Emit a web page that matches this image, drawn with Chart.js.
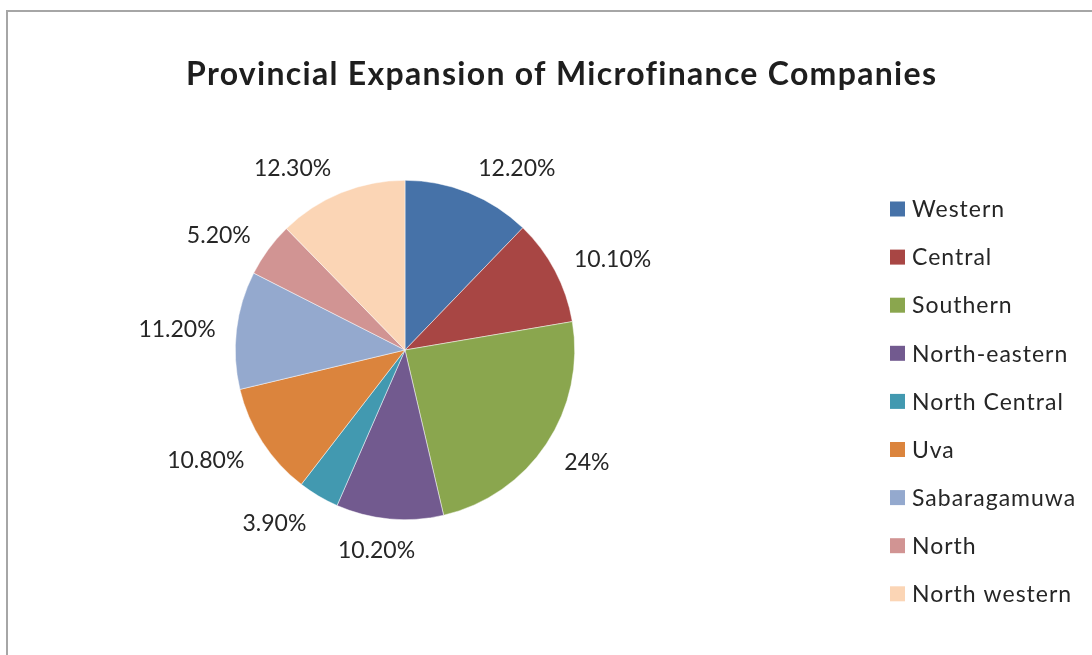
<!DOCTYPE html>
<html>
<head>
<meta charset="utf-8">
<title>Provincial Expansion of Microfinance Companies</title>
<script src="https://cdn.jsdelivr.net/npm/chart.js@4/dist/chart.umd.min.js"></script>
<style>
  html, body { margin: 0; padding: 0; background: #ffffff; overflow: hidden; }
  canvas { display: block; }
</style>
</head>
<body>
<canvas id="chart" width="1092" height="655"></canvas>
<script>
// Provinces and their share of microfinance company expansion (%)
const provinces = ['Western', 'Central', 'Southern', 'North-eastern', 'North Central', 'Uva', 'Sabaragamuwa', 'North', 'North western'];
const shares = [12.2, 10.1, 24, 10.2, 3.9, 10.8, 11.2, 5.2, 12.3];
const sliceColors = ['#4672a8', '#a84644', '#8aa64e', '#725a8f', '#4299b0', '#db843d', '#94a9ce', '#d19493', '#fbd5b5'];
const chartTitle = 'Provincial Expansion of Microfinance Companies';

const FONT = 'Lato, "Open Sans", "Noto Sans", sans-serif';
const TEXT = '#262626';

function pctText(v) {
  return (Number.isInteger(v) ? String(v) : v.toFixed(2)) + '%';
}

// Frame line along the top and left edges of the chart area
const framePlugin = {
  id: 'frame',
  beforeDraw(chart) {
    const ctx = chart.ctx;
    ctx.save();
    ctx.strokeStyle = '#a6a6a6';
    ctx.lineWidth = 2;
    ctx.beginPath();
    ctx.moveTo(7, chart.height + 5);
    ctx.lineTo(7, 11);
    ctx.lineTo(chart.width + 5, 11);
    ctx.stroke();
    ctx.restore();
  }
};

// Heading text
const headingPlugin = {
  id: 'heading',
  afterDraw(chart, args, opts) {
    const ctx = chart.ctx;
    ctx.save();
    ctx.font = 'bold ' + opts.size + 'px ' + FONT;
    ctx.letterSpacing = opts.spacing + 'px';
    ctx.fillStyle = '#1e1e1e';
    ctx.textAlign = 'left';
    ctx.textBaseline = 'alphabetic';
    const w = ctx.measureText(opts.text).width - opts.spacing;
    ctx.fillText(opts.text, opts.x - w / 2, opts.baseline);
    ctx.restore();
  }
};

// Percentage labels just outside each slice
const outsideLabels = {
  id: 'outsideLabels',
  afterDatasetsDraw(chart, args, opts) {
    const ctx = chart.ctx;
    const meta = chart.getDatasetMeta(0);
    const values = chart.data.datasets[0].data;
    ctx.save();
    ctx.font = opts.size + 'px ' + FONT;
    ctx.fillStyle = TEXT;
    ctx.textAlign = 'center';
    ctx.textBaseline = 'alphabetic';
    meta.data.forEach((arc, i) => {
      const p = arc.getProps(['x', 'y', 'startAngle', 'endAngle', 'outerRadius'], true);
      const mid = (p.startAngle + p.endAngle) / 2;
      const c = Math.cos(mid), s = Math.sin(mid);
      const text = pctText(values[i]);
      const w = ctx.measureText(text).width;
      const ax = p.x + (p.outerRadius + opts.gap) * c;
      const ay = p.y + (p.outerRadius + opts.gap) * s;
      const k = Math.max(-1, Math.min(1, 3 * c));
      const cx = ax + (w / 2 + 3) * k;
      const cy = ay + (opts.boxHeight / 2) * s;
      ctx.fillText(text, cx, cy + opts.size * 0.36 + 2);
    });
    ctx.restore();
  }
};

// Key of provinces on the right
const keyPlugin = {
  id: 'key',
  afterDraw(chart, args, opts) {
    const ctx = chart.ctx;
    const ds = chart.data.datasets[0];
    ctx.save();
    ctx.font = opts.size + 'px ' + FONT;
    ctx.letterSpacing = opts.spacing + 'px';
    ctx.textAlign = 'left';
    ctx.textBaseline = 'alphabetic';
    chart.data.labels.forEach((label, i) => {
      const cy = opts.top + i * opts.step;
      ctx.fillStyle = ds.backgroundColor[i];
      ctx.fillRect(opts.x, cy - opts.box / 2, opts.box, opts.box);
      ctx.fillStyle = TEXT;
      ctx.fillText(label, opts.x + opts.box + 7, cy + opts.size * 0.36);
    });
    ctx.restore();
  }
};

new Chart(document.getElementById('chart'), {
  type: 'pie',
  data: {
    labels: provinces,
    datasets: [{
      data: shares,
      backgroundColor: sliceColors,
      borderColor: 'rgba(255,255,255,0.8)',
      borderWidth: 0.6,
      hoverOffset: 0,
      offset: 0
    }]
  },
  options: {
    responsive: false,
    devicePixelRatio: 1,
    animation: false,
    events: [],
    layout: { padding: { left: 0, right: 282, top: 180, bottom: 135 } },
    plugins: {
      legend: { display: false },
      title: { display: false },
      tooltip: { enabled: false },
      heading: { text: chartTitle, x: 561, baseline: 85, size: 32, spacing: 1.3 },
      outsideLabels: { size: 23, gap: 18, boxHeight: 22 },
      key: { x: 890, top: 209, step: 48.1, box: 15, size: 23, spacing: 1 }
    }
  },
  plugins: [framePlugin, outsideLabels, headingPlugin, keyPlugin]
});
</script>
</body>
</html>
